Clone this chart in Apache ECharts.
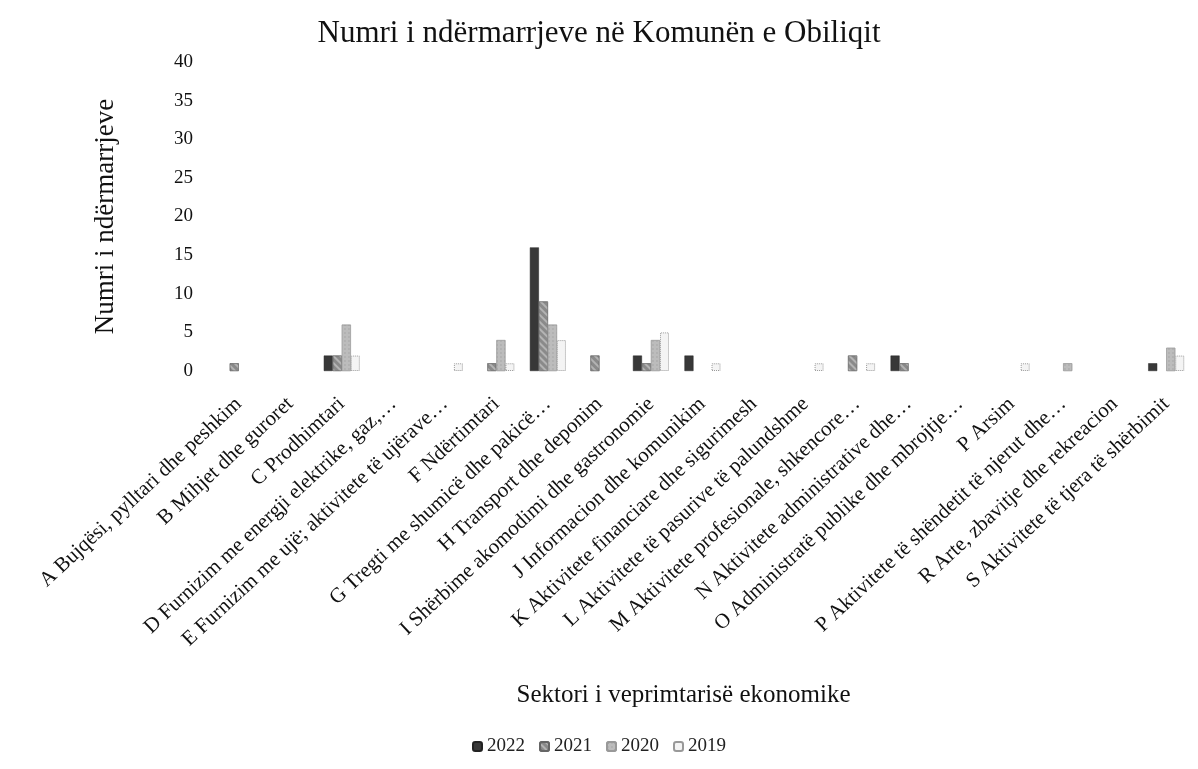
<!DOCTYPE html>
<html>
<head>
<meta charset="utf-8">
<script src="https://cdn.jsdelivr.net/npm/echarts@6/dist/echarts.min.js"></script>
<style>
  html, body { margin: 0; padding: 0; background: #fff; }
  #chart { width: 1198px; height: 769px; }
</style>
</head>
<body>
<div id="chart"></div>
<script>
var categories = [
    'A Bujqësi, pylltari dhe peshkim',
    'B Mihjet dhe guroret',
    'C Prodhimtari',
    'D Furnizim me energji elektrike, gaz,…',
    'E Furnizim me ujë; aktivitete të ujërave…',
    'F Ndërtimtari',
    'G Tregti me shumicë dhe pakicë…',
    'H Transport dhe deponim',
    'I Shërbime akomodimi dhe gastronomie',
    'J Informacion dhe komunikim',
    'K Aktivitete financiare dhe sigurimesh',
    'L Aktivitete të pasurive të palundshme',
    'M Aktivitete profesionale, shkencore…',
    'N Aktivitete administrative dhe…',
    'O Administratë publike dhe mbrojtje…',
    'P Arsim',
    'P Aktivitete të shëndetit të njerut dhe…',
    'R Arte, zbavitje dhe rekreacion',
    'S Aktivitete të tjera të shërbimit'
];
var years = ['2022', '2021', '2020', '2019'];
var v2022 = [0, 0, 2, 0, 0, 0, 16, 0, 2, 2, 0, 0, 0, 2, 0, 0, 0, 0, 1];
var v2021 = [1, 0, 2, 0, 0, 1, 9, 2, 1, 0, 0, 0, 2, 1, 0, 0, 0, 0, 0];
var v2020 = [0, 0, 6, 0, 0, 4, 6, 0, 4, 0, 0, 0, 0, 0, 0, 0, 1, 0, 3];
var v2019 = [0, 0, 2, 0, 1, 1, 4, 0, 5, 1, 0, 1, 1, 0, 0, 1, 0, 0, 2];
var yTicks = { min: 0, max: 40, interval: 5 };

var serif = '"Liberation Serif", "DejaVu Serif", serif';

function echarts_1() {
    var myChart = echarts.init(document.getElementById('chart'));

    var styles = [
        { color: '#383838', borderColor: '#222', borderWidth: 0.5 },
        {
            color: '#8a8a8a', borderColor: '#666', borderWidth: 0.5,
            decal: { symbol: 'rect', symbolSize: 1, rotation: Math.PI / 4, dashArrayX: [1, 0], dashArrayY: [2, 3], color: 'rgba(255,255,255,0.35)' }
        },
        {
            color: '#bcbcbc', borderColor: '#999', borderWidth: 0.5,
            decal: { symbol: 'rect', symbolSize: 0.6, dashArrayX: [2, 2], dashArrayY: [2, 2], color: 'rgba(0,0,0,0.18)' }
        },
        { color: '#f4f4f4', borderColor: '#999', borderWidth: 1, borderType: 'dotted' }
    ];
    var values = [v2022, v2021, v2020, v2019];

    var series = years.map(function (y, i) {
        return {
            name: y,
            type: 'bar',
            // empty cells in the source table: no bar at all
            data: values[i].map(function (v) { return v === 0 ? '-' : v; }),
            barGap: '0%',
            barCategoryGap: '30%',
            itemStyle: styles[i]
        };
    });

    option = {
        animation: false,
        title: {
            text: 'Numri i ndërmarrjeve në Komunën e Obiliqit',
            left: 'center',
            top: 13,
            textStyle: { fontFamily: serif, fontSize: 31, fontWeight: 'normal', color: '#111' }
        },
        legend: {
            data: years,
            bottom: 8,
            left: 'center',
            itemWidth: 9,
            itemHeight: 9,
            itemGap: 14,
            textStyle: { fontFamily: serif, fontSize: 19, color: '#222' }
        },
        grid: { left: 213, right: 6, top: 62, bottom: 398 },
        xAxis: {
            type: 'category',
            data: categories,
            name: 'Sektori i veprimtarisë ekonomike',
            nameLocation: 'middle',
            nameGap: 312,
            nameTextStyle: { fontFamily: serif, fontSize: 25, color: '#111', padding: [0, 38, 0, 0] },
            axisLine: { show: false },
            axisTick: { show: false },
            axisLabel: {
                interval: 0,
                rotate: 43,
                margin: 30,
                fontFamily: serif,
                fontSize: 21,
                color: '#111'
            }
        },
        yAxis: {
            type: 'value',
            min: yTicks.min,
            max: yTicks.max,
            interval: yTicks.interval,
            name: 'Numri i ndërmarrjeve',
            nameLocation: 'middle',
            nameGap: 94,
            nameTextStyle: { fontFamily: serif, fontSize: 27, color: '#111' },
            axisLine: { show: false },
            axisTick: { show: false },
            splitLine: { show: false },
            axisLabel: { fontFamily: serif, fontSize: 19, color: '#111', margin: 20 }
        },
        series: series
    };

    myChart.setOption(option);
    window.addEventListener("resize", function () {
        myChart.resize();
    });
}
echarts_1();
</script>
</body>
</html>
